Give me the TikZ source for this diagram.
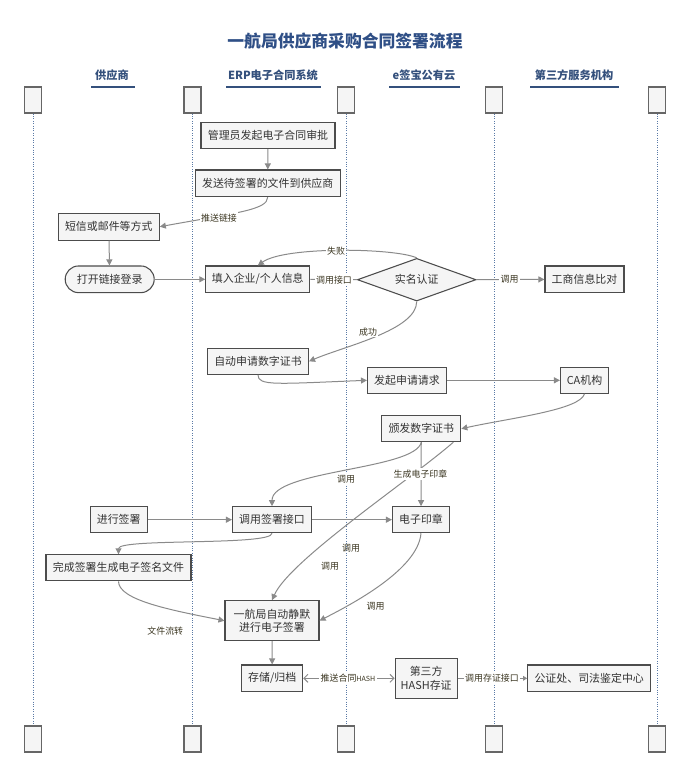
\documentclass[tikz,border=0pt]{standalone}
\usepackage{fontspec}
\setmainfont{Noto Sans CJK SC}
\usepackage{tikz}
\usetikzlibrary{
  positioning,
  calc,
  arrows.meta,
  shapes.geometric
}
\definecolor{titleBlue}{HTML}{2F4F86}
\definecolor{laneBlue}{HTML}{34507C}
\definecolor{boxGray}{HTML}{F5F5F5}
\definecolor{lineGray}{HTML}{8A8A8A}
\definecolor{labelBrown}{HTML}{3A3520}
\definecolor{lifeBlue}{HTML}{5A7AA6}

\tikzstyle{proc}=[draw=black!70, fill=boxGray, line width=0.8pt, minimum height=19.5pt, inner sep=0pt, text=black!80, font=\fontsize{8.2}{10}\selectfont]
\tikzstyle{decision}=[diamond, aspect=2.7, draw=black!70, fill=boxGray, line width=0.8pt, minimum width=89pt, minimum height=32pt, inner sep=0pt, text=black!80, font=\fontsize{8.2}{10}\selectfont]
\tikzstyle{lifebox}=[draw=black!60, fill=boxGray, line width=0.9pt, minimum width=12.75pt, minimum height=19.5pt, inner sep=0pt]
\tikzstyle{lifeline}=[lifeBlue, line width=0.6pt, dash pattern=on 0.8pt off 1pt]
\tikzstyle{lanehead}=[text=laneBlue, font=\fontsize{8.4}{10}\selectfont\bfseries]
\tikzstyle{laneline}=[laneBlue, line width=1pt]
\tikzstyle{flow}=[lineGray, line width=0.75pt, -{Triangle[length=4.5pt, width=4.5pt]}]
\tikzstyle{lbl}=[fill=white, inner sep=1pt, text=labelBrown, font=\fontsize{6.7}{8}\selectfont]
\tikzstyle{lblfree}=[inner sep=1pt, text=labelBrown, font=\fontsize{6.7}{8}\selectfont]

\begin{document}
\begin{tikzpicture}[x=0.75pt, y=-0.75pt]
      \useasboundingbox (0,0) rectangle (689,776);

      % タイトル
      \node (title) at (345,41) [text=titleBlue, font=\fontsize{12.6}{15}\selectfont\bfseries]{一航局供应商采购合同签署流程};

      % レーンの見出し
      \node (hSupplier) at (112,75) [lanehead]{供应商};
      \node (hErp) at (273,75) [lanehead]{ERP电子合同系统};
      \node (hEsign) at (424,75) [lanehead]{e签宝公有云};
      \node (hThird) at (574,75) [lanehead]{第三方服务机构};
      \draw[laneline] (91,87) -- (135,87);
      \draw[laneline] (226,87) -- (321,87);
      \draw[laneline] (389,87) -- (460,87);
      \draw[laneline] (530,87) -- (619,87);

      % ライフライン
      \node (top1) at (33,100) [lifebox]{};
      \node (top2) at (192.5,100) [lifebox]{};
      \node (top3) at (346,100) [lifebox]{};
      \node (top4) at (494,100) [lifebox]{};
      \node (top5) at (657,100) [lifebox]{};
      \node (bot1) at (33,739) [lifebox]{};
      \node (bot2) at (192.5,739) [lifebox]{};
      \node (bot3) at (346,739) [lifebox]{};
      \node (bot4) at (494,739) [lifebox]{};
      \node (bot5) at (657,739) [lifebox]{};
      \draw[lifeline] (top1) -- (bot1);
      \draw[lifeline] (top2) -- (bot2);
      \draw[lifeline] (top3) -- (bot3);
      \draw[lifeline] (top4) -- (bot4);
      \draw[lifeline] (top5) -- (bot5);

      % 処理ボックス
      \node (approve) at (268,135.7) [proc, minimum width=100.5pt]{管理员发起电子合同审批};
      \node (sendfile) at (267.7,183.3) [proc, minimum width=108.75pt, minimum height=20pt]{发送待签署的文件到供应商};
      \node (sms) at (108.8,226.7) [proc, minimum width=75.75pt, minimum height=20pt]{短信或邮件等方式};
      \node (login) at (109.7,279.3) [proc, rounded corners=10pt, minimum width=66.75pt, minimum height=20pt]{打开链接登录};
      \node (fillin) at (257.8,279.3) [proc, minimum width=78pt, minimum height=20pt]{填入企业/个人信息};
      \node (realname) at (416.7,279.7) [decision]{实名认证};
      \node (bizcheck) at (584.5,279.3) [proc, minimum width=59.25pt, minimum height=20pt]{工商信息比对};
      \node (autoapply) at (258,361.3) [proc, minimum width=75.75pt]{自动申请数字证书};
      \node (request) at (407,380.3) [proc, minimum width=59.25pt]{发起申请请求};
      \node (ca) at (584.5,380.3) [proc, minimum width=36pt]{CA机构};
      \node (issue) at (421.3,428.7) [proc, minimum width=59.25pt]{颁发数字证书};
      \node (dosign) at (118.7,519.7) [proc, minimum width=42.75pt]{进行签署};
      \node (signapi) at (272,519.7) [proc, minimum width=59.25pt]{调用签署接口};
      \node (seal) at (421,519.7) [proc, minimum width=42.75pt]{电子印章};
      \node (done) at (118.5,567.8) [proc, minimum width=108.75pt]{完成签署生成电子签名文件};
      \node (silent) at (272,620.7) [proc, minimum width=70.5pt, minimum height=30pt, align=center]{一航局自动静默\\进行电子签署};
      \node (archive) at (272.2,678.3) [proc, minimum width=45.75pt, minimum height=20pt]{存储/归档};
      \node (hashproof) at (426.2,678.3) [proc, minimum width=46.5pt, minimum height=30pt, align=center]{第三方\\HASH存证};
      \node (notary) at (589.2,678.3) [proc, minimum width=92.25pt, minimum height=20pt]{公证处、司法鉴定中心};

      % 流れの矢印
      \draw[flow] (approve) -- (sendfile);
      \draw[flow] (sendfile.south) .. controls (267.7,210) and (235,213) .. (sms.east);
      \draw[flow] (sms) -- (login);
      \draw[flow] (login) -- (fillin);
      \draw[lineGray, line width=0.75pt] (fillin) -- (realname);
      \draw[flow] (realname.north) .. controls (395,248) and (285,246) .. (fillin.north);
      \draw[flow] (realname) -- (bizcheck);
      \draw[flow] (realname.south) .. controls (416.7,330) and (345,346) .. (autoapply.east);
      \draw[flow] (autoapply.south) .. controls (258,386) and (275,384) .. (request.west);
      \draw[flow] (request) -- (ca);
      \draw[flow] (ca.south) .. controls (580,410) and (510,418) .. (issue.east);
      \draw[flow] (issue.south) .. controls (415,470) and (272,470) .. (signapi.north);
      \draw[flow] (issue) -- (seal);
      \draw[flow] ($(issue.south east)+(-8,0)$) .. controls (410,480) and (290,560) .. (silent.north);
      \draw[flow] (dosign) -- (signapi);
      \draw[flow] (signapi) -- (seal);
      \draw[flow] (signapi.south) .. controls (272,546) and (118.5,538) .. (done.north);
      \draw[flow] (done.south) .. controls (118.5,600) and (170,610) .. (silent.west);
      \draw[flow] (seal.south) .. controls (418,570) and (350,605) .. (silent.east);
      \draw[flow] (silent) -- (archive);
      \draw[lineGray, line width=0.75pt, {Straight Barb[length=3pt, width=6pt]}-{Straight Barb[length=3pt, width=6pt]}] (archive) -- (hashproof);
      \draw[lineGray, line width=0.75pt, -{Triangle[length=3pt, width=3.5pt]}] (hashproof) -- (notary);

      % 矢印のラベル
      \node (lPush) at (219,217.7) [lbl]{推送链接};
      \node (lApi) at (334,279.7) [lbl]{调用接口};
      \node (lFail) at (336,251.5) [lbl]{失败};
      \node (lBiz) at (509.5,279.7) [lbl]{调用};
      \node (lOk) at (368,331.7) [lbl]{成功};
      \node (lSignapi) at (346,479) [lbl]{调用};
      \node (lSeal) at (420.5,474) [lbl]{生成电子印章};
      \node (lCallA) at (351,548.3) [lblfree]{调用};
      \node (lCallB) at (330,566.7) [lblfree]{调用};
      \node (lCallC) at (375.5,606.7) [lblfree]{调用};
      \node (lFile) at (165.3,630.7) [lblfree]{文件流转};
      \node (lHash) at (348,678.3) [lbl]{推送合同{\fontsize{5.3}{6}\selectfont HASH}};
      \node (lStore) at (492,678.3) [lbl]{调用存证接口};
    \end{tikzpicture}
\end{document}
